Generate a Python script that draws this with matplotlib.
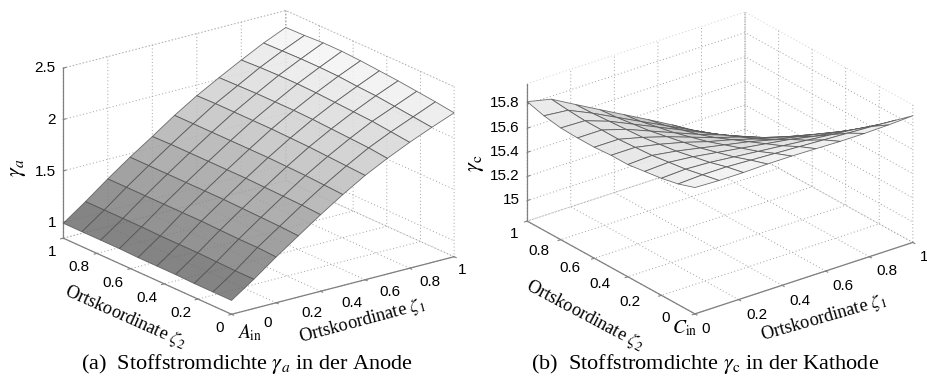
import numpy as np
import matplotlib
matplotlib.use("Agg")
import matplotlib.pyplot as plt

plt.rcParams["font.family"] = "Liberation Sans"
plt.rcParams["mathtext.fontset"] = "stix"
plt.rcParams["grid.linestyle"] = (0, (1, 2.5))
plt.rcParams["grid.color"] = "#a0a0a0"
plt.rcParams["grid.linewidth"] = 0.7
plt.rcParams["axes.edgecolor"] = "#808080"

FIG_W, FIG_H = 928, 381

# Anode: rows = zeta_2 from 0 to 1, columns = zeta_1 from 0 to 1
zeta1_a = [0.0, 0.1, 0.2, 0.3, 0.4, 0.5, 0.6, 0.7, 0.8, 0.9, 1.0]
zeta2_a = [0.0, 0.111, 0.222, 0.333, 0.444, 0.556, 0.667, 0.778, 0.889, 1.0]
gamma_a = [
    [0.98, 1.13, 1.29, 1.44, 1.59, 1.73, 1.86, 1.97, 2.07, 2.16, 2.245],
    [0.98, 1.13, 1.30, 1.45, 1.60, 1.74, 1.87, 1.99, 2.09, 2.18, 2.27],
    [0.98, 1.135, 1.30, 1.455, 1.605, 1.75, 1.88, 2.00, 2.11, 2.20, 2.29],
    [0.985, 1.14, 1.305, 1.46, 1.61, 1.755, 1.89, 2.01, 2.12, 2.22, 2.31],
    [0.985, 1.14, 1.31, 1.465, 1.615, 1.76, 1.895, 2.02, 2.13, 2.23, 2.325],
    [0.985, 1.14, 1.31, 1.465, 1.615, 1.76, 1.90, 2.025, 2.14, 2.245, 2.34],
    [0.99, 1.145, 1.31, 1.465, 1.615, 1.76, 1.90, 2.025, 2.145, 2.25, 2.35],
    [0.99, 1.145, 1.31, 1.465, 1.615, 1.76, 1.90, 2.025, 2.145, 2.25, 2.35],
    [0.99, 1.145, 1.31, 1.465, 1.615, 1.76, 1.90, 2.02, 2.14, 2.245, 2.34],
    [0.99, 1.145, 1.31, 1.465, 1.61, 1.76, 1.895, 2.015, 2.13, 2.24, 2.335],
]

# Cathode: rows = zeta_2 from 0 to 1, columns = zeta_1 from 0 to 1
zeta1_c = [0.0, 0.111, 0.222, 0.333, 0.444, 0.556, 0.667, 0.778, 0.889, 1.0]
zeta2_c = [0.0, 0.1, 0.2, 0.3, 0.4, 0.5, 0.6, 0.7, 0.8, 0.9, 1.0]
gamma_c = [
    [15.877, 15.87, 15.87, 15.875, 15.875, 15.87, 15.865, 15.865, 15.87, 15.88],
    [15.83, 15.84, 15.84, 15.83, 15.82, 15.81, 15.80, 15.79, 15.78, 15.767],
    [15.80, 15.81, 15.80, 15.78, 15.76, 15.74, 15.72, 15.70, 15.68, 15.654],
    [15.78, 15.79, 15.77, 15.74, 15.71, 15.68, 15.65, 15.61, 15.58, 15.546],
    [15.76, 15.77, 15.74, 15.70, 15.66, 15.62, 15.57, 15.53, 15.49, 15.447],
    [15.76, 15.76, 15.72, 15.67, 15.61, 15.56, 15.50, 15.45, 15.40, 15.345],
    [15.75, 15.75, 15.70, 15.64, 15.57, 15.50, 15.44, 15.37, 15.31, 15.246],
    [15.75, 15.75, 15.69, 15.61, 15.53, 15.45, 15.38, 15.30, 15.22, 15.15],
    [15.756, 15.75, 15.68, 15.59, 15.50, 15.41, 15.32, 15.23, 15.15, 15.067],
    [15.78, 15.76, 15.67, 15.57, 15.47, 15.37, 15.27, 15.17, 15.08, 14.99],
    [15.82, 15.775, 15.665, 15.557, 15.45, 15.342, 15.232, 15.117, 15.02, 14.935],
]

zeta_ticks = [0, 0.2, 0.4, 0.6, 0.8, 1]
zeta_labels = ["0", "0.2", "0.4", "0.6", "0.8", "1"]
z_ticks_a = [1, 1.5, 2, 2.5]
z_labels_a = ["1", "1.5", "2", "2.5"]
z_ticks_c = [15, 15.2, 15.4, 15.6, 15.8]
z_labels_c = ["15", "15.2", "15.4", "15.6", "15.8"]

# tick label centres in pixels, the labels in the source are placed by hand
xlabel_pos_a = [(268, 323), (312, 313), (352, 303), (390, 292), (430, 282), (462, 270)]
ylabel_pos_a = [(220, 328), (181, 313), (147, 298), (113, 283), (79, 267), (52, 252)]
zlabel_pos_a = [(52, 223), (45, 172), (52, 120), (45, 68)]
xlabel_pos_c = [(706, 329), (757, 315), (800, 301), (843, 286), (887, 271), (924, 257)]
ylabel_pos_c = [(666, 318), (630, 302), (600, 284), (570, 268), (539, 251), (514, 234)]
zlabel_pos_c = [(511, 200), (505, 176), (505, 152), (505, 128), (505, 103)]


def px(x, y):
    return x / FIG_W, 1 - y / FIG_H


def add_panel(fig, center, box_px, elev, azim):
    # size the square 3d axes so one box pixel in box_px is one figure pixel
    side = np.linalg.norm(box_px) * 1.85 / (1.8294640721620434 * 25 / 24)
    left = center[0] - side * 0.95 / 1.85
    bottom = FIG_H - center[1] - side * 0.95 / 1.85
    ax = fig.add_axes([left / FIG_W, bottom / FIG_H, side / FIG_W, side / FIG_H],
                      projection="3d", proj_type="ortho")
    ax.set_box_aspect(box_px)
    ax.view_init(elev=elev, azim=azim)
    return ax


def draw_surface(ax, x, y, z, zlim, vlim, zticks):
    X, Y = np.meshgrid(x, y)
    ax.plot_surface(X, Y, np.array(z), cmap="gray", vmin=vlim[0], vmax=vlim[1],
                    rstride=1, cstride=1, shade=False, alpha=0.85,
                    edgecolor="#555555", linewidth=0.6)
    ax.set_xlim(0, 1)
    ax.set_ylim(0, 1)
    ax.set_zlim(*zlim)
    ax.set_xticks(zeta_ticks, [""] * len(zeta_ticks))
    ax.set_yticks(zeta_ticks, [""] * len(zeta_ticks))
    ax.set_zticks(zticks, [""] * len(zticks))
    ax.tick_params(colors="#808080", width=0.7)
    for axis in (ax.xaxis, ax.yaxis, ax.zaxis):
        axis.pane.set_facecolor("none")
        axis.pane.set_edgecolor("#a0a0a0")
        axis.pane.set_linestyle((0, (1, 2.5)))
        axis.pane.set_linewidth(0.7)
        axis.line.set_color("#808080")
        axis.line.set_linewidth(0.9)
    for axis in (ax.xaxis, ax.yaxis):
        axis._axinfo["tick"]["inward_factor"] = 0.15
        axis._axinfo["tick"]["outward_factor"] = 0.0
    ax.zaxis._axinfo["tick"]["inward_factor"] = 0.0
    ax.zaxis._axinfo["tick"]["outward_factor"] = 0.15
    ax.patch.set_alpha(0)


def tick_texts(fig, labels, positions):
    for s, (x, y) in zip(labels, positions):
        fx, fy = px(x, y)
        fig.text(fx, fy, s, fontsize=11, ha="center", va="center")


fig = plt.figure(figsize=(FIG_W / 100, FIG_H / 100), dpi=100)

ax_a = add_panel(fig, (258.7, 162.4), (279, 279, 181), 20.0, -127.1)
draw_surface(ax_a, zeta1_a, zeta2_a, gamma_a, (0.845, 2.5), (0.04, 2.4), z_ticks_a)
tick_texts(fig, zeta_labels, xlabel_pos_a)
tick_texts(fig, zeta_labels, ylabel_pos_a)
tick_texts(fig, z_labels_a, zlabel_pos_a)

ax_c = add_panel(fig, (720.0, 163.0), (275, 275, 152), 25.2, -127.6)
draw_surface(ax_c, zeta1_c, zeta2_c, gamma_c, (14.83, 15.97), (13.84, 15.98), z_ticks_c)
tick_texts(fig, zeta_labels, xlabel_pos_c)
tick_texts(fig, zeta_labels, ylabel_pos_c)
tick_texts(fig, z_labels_c, zlabel_pos_c)

serif = "Liberation Serif"
labels = [
    (125, 317, -24, 13.2, r"Ortskoordinate $\zeta_2$"),
    (362, 321, 15, 13.2, r"Ortskoordinate $\zeta_1$"),
    (585, 316, -28, 13.2, r"Ortskoordinate $\zeta_2$"),
    (824, 318, 16, 13.2, r"Ortskoordinate $\zeta_1$"),
    (18, 168, 90, 16, r"$\gamma_a$"),
    (477, 163, 90, 16, r"$\gamma_{\mathrm{c}}$"),
    (250, 333, 0, 14, r"$A_{\mathrm{in}}$"),
    (685, 328, 0, 14, r"$C_{\mathrm{in}}$"),
]
for x, y, rot, size, s in labels:
    fx, fy = px(x, y)
    fig.text(fx, fy, s, rotation=rot, family=serif, fontsize=size,
             ha="center", va="center", rotation_mode="anchor")

fx, fy = px(247, 364)
fig.text(fx, fy, r"(a)  Stoffstromdichte $\gamma_a$ in der Anode", family=serif, fontsize=16,
         ha="center", va="center")
fx, fy = px(705, 364)
fig.text(fx, fy, r"(b)  Stoffstromdichte $\gamma_{\mathrm{c}}$ in der Kathode", family=serif, fontsize=16,
         ha="center", va="center")

fig.savefig("out.png", dpi=100)
